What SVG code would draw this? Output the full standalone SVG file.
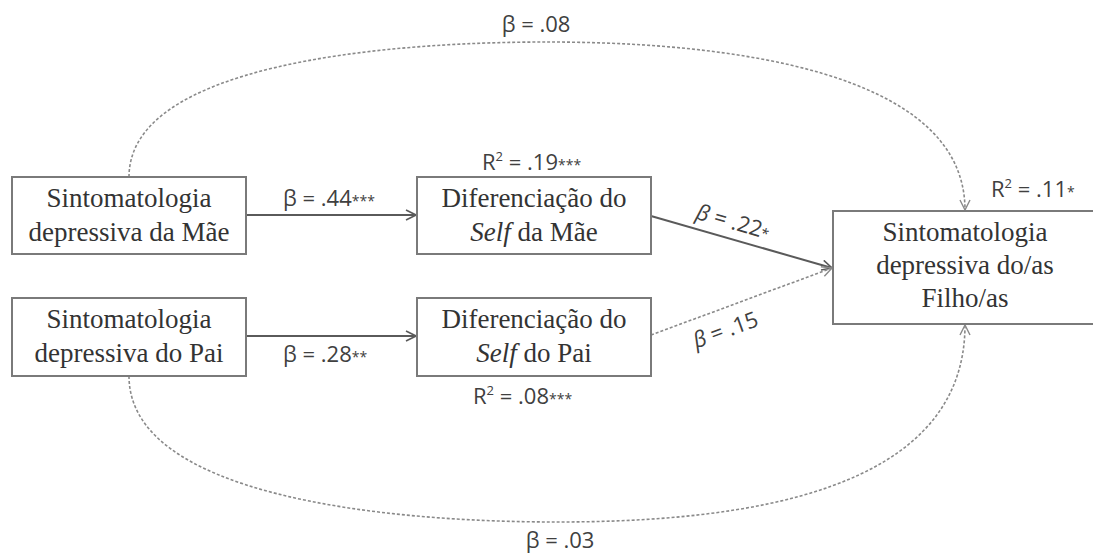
<svg xmlns="http://www.w3.org/2000/svg" width="1093" height="556" viewBox="0 0 1093 556">
<style>
.box{fill:#fff;stroke:#7a7a7a;stroke-width:2}
.nt{font-family:"Liberation Serif","Times New Roman",serif;font-size:27px;fill:#333;text-anchor:middle}
.lb{font-family:"Open Sans","Liberation Sans",sans-serif;font-size:22px;fill:#404040}
.ast{font-size:14px}
.sup{font-size:13px}
.solid{fill:none;stroke:#5a5a5a;stroke-width:2}
.dash{fill:none;stroke:#8a8a8a;stroke-width:1.6;stroke-dasharray:3 2}
</style>
<defs>
<marker id="ah" viewBox="0 0 12 12" refX="11" refY="6" markerWidth="12" markerHeight="12" markerUnits="userSpaceOnUse" orient="auto">
<path d="M1,1 L11,6 L1,11" fill="none" stroke="#5a5a5a" stroke-width="1.6"/>
</marker>
<marker id="ahd" viewBox="0 0 12 12" refX="11" refY="6" markerWidth="12" markerHeight="12" markerUnits="userSpaceOnUse" orient="auto">
<path d="M1,1 L11,6 L1,11" fill="none" stroke="#8a8a8a" stroke-width="1.4"/>
</marker>
</defs>
<rect width="1093" height="556" fill="#fff"/>
<g id="connectors">
<path class="solid" d="M246,215 L416,215" marker-end="url(#ah)"/>
<path class="solid" d="M246,336 L416,336" marker-end="url(#ah)"/>
<path class="solid" d="M651,216 L832,268" marker-end="url(#ah)"/>
<path class="dash" d="M651,335 L832,268" marker-end="url(#ahd)"/>
<path class="dash" d="M129,177 C129,65 380,42 547,42 C725,42 965,70 965,210" marker-end="url(#ahd)"/>
<path class="dash" d="M129,376 C129,495 380,522 557,522 C745,522 965,492 965,325" marker-end="url(#ahd)"/>
<text class="lb" x="283" y="206">β = .44<tspan class="ast">***</tspan></text>
<text class="lb" x="283" y="362">β = .28<tspan class="ast">**</tspan></text>
<text class="lb" x="536" y="32" text-anchor="middle">β = .08</text>
<text class="lb" x="560" y="548" text-anchor="middle">β = .03</text>
<text class="lb" x="731" y="229" text-anchor="middle" font-size="24" transform="rotate(16 731 229)"><tspan font-style="italic">β</tspan> = .22<tspan class="ast">*</tspan></text>
<text class="lb" x="728" y="337" text-anchor="middle" font-size="24" transform="rotate(-20 728 337)"><tspan font-style="italic">β</tspan> = .15</text>
</g>
<g id="mae">
<rect class="box" x="12" y="177" width="234" height="77"/>
<text class="nt" x="129" y="207">Sintomatologia</text>
<text class="nt" x="129" y="241">depressiva da Mãe</text>
</g>
<g id="pai">
<rect class="box" x="12" y="298" width="234" height="78"/>
<text class="nt" x="129" y="328">Sintomatologia</text>
<text class="nt" x="129" y="362">depressiva do Pai</text>
</g>
<g id="dif-mae">
<rect class="box" x="417" y="177" width="234" height="77"/>
<text class="nt" x="534" y="207">Diferenciação do</text>
<text class="nt" x="534" y="241"><tspan font-style="italic">Self</tspan> da Mãe</text>
<text class="lb" x="482" y="170">R<tspan class="sup" dy="-9">2</tspan><tspan dy="9"> = .19</tspan><tspan class="ast">***</tspan></text>
</g>
<g id="dif-pai">
<rect class="box" x="417" y="298" width="234" height="78"/>
<text class="nt" x="534" y="328">Diferenciação do</text>
<text class="nt" x="534" y="362"><tspan font-style="italic">Self</tspan> do Pai</text>
<text class="lb" x="473" y="404">R<tspan class="sup" dy="-9">2</tspan><tspan dy="9"> = .08</tspan><tspan class="ast">***</tspan></text>
</g>
<g id="filho">
<rect class="box" x="833" y="211" width="270" height="113"/>
<text class="nt" x="965" y="241">Sintomatologia</text>
<text class="nt" x="965" y="274">depressiva do/as</text>
<text class="nt" x="965" y="307">Filho/as</text>
<text class="lb" x="991" y="197">R<tspan class="sup" dy="-9">2</tspan><tspan dy="9"> = .11</tspan><tspan class="ast">*</tspan></text>
</g>
</svg>
